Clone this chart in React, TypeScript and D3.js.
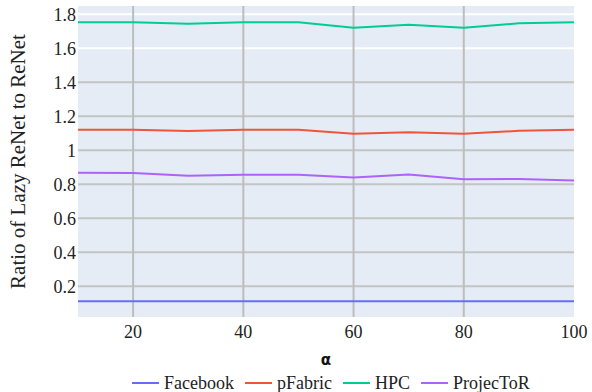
import React from "react";
import * as d3 from "d3";

// alpha values on the x axis
const alphas = [10, 20, 30, 40, 50, 60, 70, 80, 90, 100];

const facebook = [0.112, 0.112, 0.112, 0.112, 0.112, 0.112, 0.112, 0.112, 0.112, 0.112];
const pFabric = [1.121, 1.121, 1.113, 1.121, 1.121, 1.097, 1.107, 1.097, 1.115, 1.121];
const hpc = [1.753, 1.753, 1.745, 1.753, 1.753, 1.721, 1.739, 1.721, 1.747, 1.753];
const projector = [0.868, 0.866, 0.85, 0.856, 0.856, 0.84, 0.858, 0.83, 0.832, 0.823];

const seriesNames = ["Facebook", "pFabric", "HPC", "ProjecToR"];
const seriesColors = ["#636efa", "#EF553B", "#00cc96", "#ab63fa"];

const yTicks = [0.2, 0.4, 0.6, 0.8, 1, 1.2, 1.4, 1.6, 1.8];
const xTicks = [20, 40, 60, 80, 100];

export default function App() {
    const ref = React.useRef(null);

    React.useEffect(() => {
        document.body.style.margin = "0";
        document.body.style.overflow = "hidden";
        d3.select(ref.current).selectAll("*").remove();
        drawChart();
    }, []);

    function drawChart() {
        const width = 592;
        const height = 392;
        const margin = { top: 6, left: 78, right: 18, bottom: 75 };
        const font = "'Liberation Serif', 'Times New Roman', serif";

        const svg = d3
            .select(ref.current)
            .append("svg")
            .attr("width", width)
            .attr("height", height)
            .style("display", "block")
            .style("background", "#fff");

        const x = d3
            .scaleLinear()
            .domain([10, 100])
            .range([margin.left, width - margin.right]);
        const y = d3
            .scaleLinear()
            .domain([0.0195, 1.849])
            .range([height - margin.bottom, margin.top]);

        // plot background
        svg.append("rect")
            .attr("x", margin.left)
            .attr("y", margin.top)
            .attr("width", width - margin.left - margin.right)
            .attr("height", height - margin.top - margin.bottom)
            .attr("fill", "#E5ECF6");

        // horizontal gridlines
        svg.append("g")
            .selectAll("line")
            .data(yTicks)
            .join("line")
            .attr("x1", margin.left)
            .attr("x2", width - margin.right)
            .attr("y1", (d) => y(d))
            .attr("y2", (d) => y(d))
            .attr("stroke", (d) => (d >= 1.6 ? "#ffffff" : "#c4c4c4"))
            .attr("stroke-width", 2);

        // vertical gridlines
        svg.append("g")
            .selectAll("line")
            .data(xTicks.filter((d) => d < 100))
            .join("line")
            .attr("x1", (d) => x(d))
            .attr("x2", (d) => x(d))
            .attr("y1", margin.top)
            .attr("y2", height - margin.bottom)
            .attr("stroke", "#bdbdbd")
            .attr("stroke-width", 2);

        // y tick labels
        svg.append("g")
            .selectAll("text")
            .data(yTicks)
            .join("text")
            .attr("x", margin.left - 2)
            .attr("y", (d) => y(d))
            .attr("dy", "0.35em")
            .attr("text-anchor", "end")
            .style("font-family", font)
            .style("font-size", "18px")
            .attr("fill", "#222")
            .text((d) => d3.format("")(d));

        // x tick labels
        svg.append("g")
            .selectAll("text")
            .data(xTicks)
            .join("text")
            .attr("x", (d) => x(d))
            .attr("y", height - margin.bottom + 21)
            .attr("text-anchor", "middle")
            .style("font-family", font)
            .style("font-size", "18px")
            .attr("fill", "#222")
            .text((d) => d);

        // axis titles
        svg.append("text")
            .attr("transform", `translate(25,${(margin.top + height - margin.bottom) / 2}) rotate(-90)`)
            .attr("text-anchor", "middle")
            .style("font-family", font)
            .style("font-size", "21px")
            .attr("fill", "#222")
            .text("Ratio of Lazy ReNet to ReNet");

        svg.append("text")
            .attr("x", (margin.left + width - margin.right) / 2)
            .attr("y", 365)
            .attr("text-anchor", "middle")
            .style("font-family", "'DejaVu Sans', sans-serif")
            .style("font-weight", "bold")
            .style("font-size", "15px")
            .attr("fill", "#111")
            .text("α");

        // lines
        const allSeries = [facebook, pFabric, hpc, projector];
        const line = d3
            .line<number>()
            .x((d, i) => x(alphas[i]))
            .y((d) => y(d));

        svg.append("g")
            .selectAll("path")
            .data(allSeries)
            .join("path")
            .attr("fill", "none")
            .attr("stroke", (d, i) => seriesColors[i])
            .attr("stroke-width", 2)
            .attr("stroke-linejoin", "round")
            .attr("d", (d) => line(d));

        // legend
        const legend = svg.append("g").attr("transform", "translate(0,383)");
        let cursor = 132;
        seriesNames.forEach((name, i) => {
            const item = legend.append("g").attr("transform", `translate(${cursor},0)`);
            item.append("line")
                .attr("x1", 0)
                .attr("x2", 27)
                .attr("y1", 0)
                .attr("y2", 0)
                .attr("stroke", seriesColors[i])
                .attr("stroke-width", 2);
            const label = item
                .append("text")
                .attr("x", 32)
                .attr("y", 0)
                .attr("dy", "0.35em")
                .style("font-family", font)
                .style("font-size", "18px")
                .attr("fill", "#222")
                .text(name);
            const w = label.node().getComputedTextLength();
            cursor += 32 + w + 11;
        });
    }

    return <div ref={ref} />;
}
